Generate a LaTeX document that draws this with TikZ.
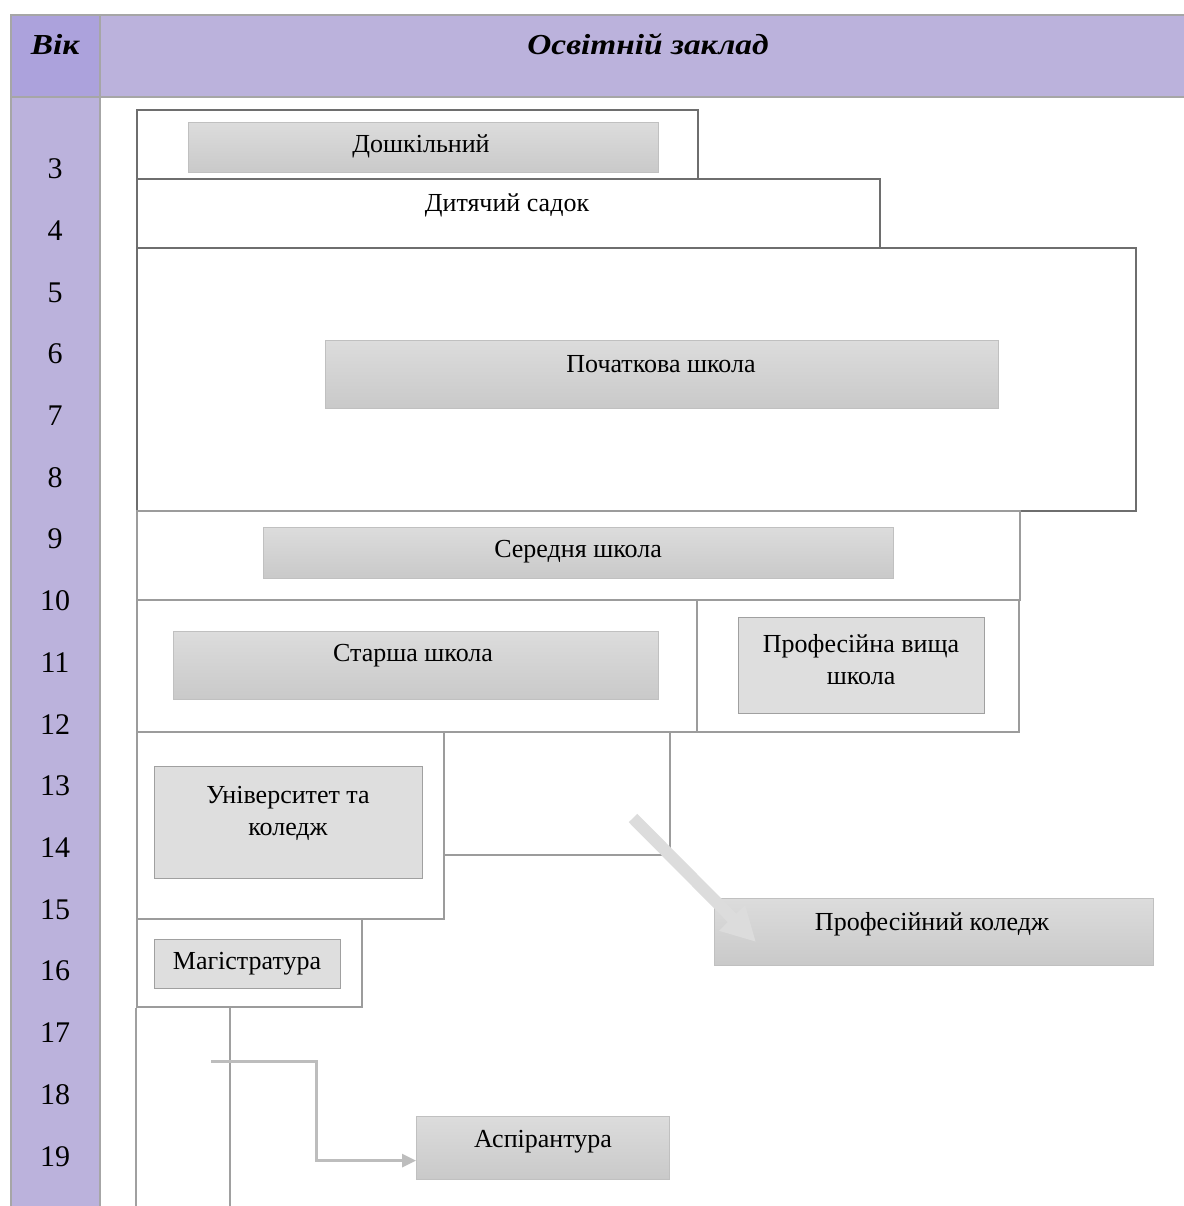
\documentclass[tikz,border=0pt]{standalone}
\usepackage{fontspec}
\setmainfont{Liberation Serif}
\newfontfamily\hdrfont[FakeStretch=1.15]{Liberation Serif}
\usetikzlibrary{arrows.meta,calc}
\definecolor{purpD}{HTML}{ACA2DC}
\definecolor{purpL}{HTML}{BBB2DC}
\definecolor{gridc}{HTML}{A6A6A6}
\definecolor{boxdark}{HTML}{6E6E6E}
\definecolor{boxmid}{HTML}{9C9C9C}
\definecolor{gtop}{HTML}{DCDCDC}
\definecolor{gbot}{HTML}{C9C9C9}
\definecolor{gedge}{HTML}{C0C0C0}
\definecolor{flatg}{HTML}{DEDEDE}
\definecolor{flatedge}{HTML}{A0A0A0}
\definecolor{arrg}{HTML}{DCDCDC}
\definecolor{connc}{HTML}{BDBDBD}
\begin{document}
\begin{tikzpicture}[x=1pt,y=-1pt,
  frame/.style={draw=boxdark,line width=1.6pt,fill=white,inner sep=0pt,anchor=north west},
  framel/.style={frame,draw=boxmid},
  gradbox/.style={draw=gedge,line width=1.2pt,top color=gtop,bottom color=gbot,inner sep=0pt,anchor=north west},
  flatbox/.style={draw=flatedge,line width=1.4pt,fill=flatg,inner sep=0pt,anchor=north west},
  txt/.style={font=\fontsize{26}{32}\selectfont,align=center,inner sep=0pt},
  agetxt/.style={font=\fontsize{30}{34}\selectfont,inner sep=0pt},
  hdrtxt/.style={font=\hdrfont\bfseries\itshape\fontsize{29}{33}\selectfont,inner sep=0pt},
  vline/.style={draw=flatedge,line width=1.6pt},
  conn/.style={draw=connc,line width=3pt,-{Triangle[length=14pt,width=13pt]}},
  bigarrow/.style={draw=arrg,line width=12pt,-{Triangle[length=34pt,width=34pt]}}
]
\useasboundingbox (0,0) rectangle (1183,1206);
\fill[white] (0,0) rectangle (1183,1206);

% table header and age column
\node[draw=gridc,line width=2pt,fill=purpL,inner sep=0pt,anchor=north west,minimum width=1100pt,minimum height=82pt] (hdr) at (99,14) {};
\node[draw=gridc,line width=2pt,fill=purpD,inner sep=0pt,anchor=north west,minimum width=89pt,minimum height=82pt] (hvik) at (10,14) {};
\node[draw=gridc,line width=2pt,fill=purpL,inner sep=0pt,anchor=north west,minimum width=89pt,minimum height=1130pt] (agecol) at (10,96) {};
\node[hdrtxt] (tvik) at (55,44) {Вік};
\node[hdrtxt] (tzaklad) at (648,44) {Освітній заклад};

\foreach \a [count=\i from 0] in {3,...,19} {
  \node[agetxt] (age\a) at (55,{169+61.7*\i}) {\a};
}

% outer frames
\node[frame,minimum width=561pt,minimum height=69pt] (frA) at (136,109) {};
\node[frame,minimum width=743pt,minimum height=69pt] (frB) at (136,178) {};
\node[frame,minimum width=999pt,minimum height=263pt] (frC) at (136,247) {};
\node[framel,minimum width=883pt,minimum height=89pt] (frD) at (136,510) {};
\node[framel,minimum width=560pt,minimum height=132pt] (frE) at (136,599) {};
\node[framel,minimum width=322pt,minimum height=132pt] (frF) at (696,599) {};
\node[framel,minimum width=307pt,minimum height=187pt] (frG) at (136,731) {};
\node[framel,minimum width=226pt,minimum height=123pt] (frH) at (443,731) {};
\node[framel,minimum width=225pt,minimum height=88pt] (frI) at (136,918) {};

% inner boxes
\node[gradbox,minimum width=470pt,minimum height=50pt] (bDosh) at (188,122) {};
\node[gradbox,minimum width=673pt,minimum height=68pt] (bPoch) at (325,340) {};
\node[gradbox,minimum width=630pt,minimum height=51pt] (bSer) at (263,527) {};
\node[gradbox,minimum width=485pt,minimum height=68pt] (bStar) at (173,631) {};
\node[flatbox,minimum width=246pt,minimum height=96pt] (bPVS) at (738,617) {};
\node[flatbox,minimum width=268pt,minimum height=112pt] (bUni) at (154,766) {};
\node[flatbox,minimum width=186pt,minimum height=49pt] (bMag) at (154,939) {};
\node[gradbox,minimum width=439pt,minimum height=67pt] (bPK) at (714,898) {};
\node[gradbox,minimum width=253pt,minimum height=63pt] (bAsp) at (416,1116) {};

% texts
\node[txt] (tDosh) at (421,146) {Дошкільний};
\node[txt] (tSad) at (507,205) {Дитячий садок};
\node[txt] (tPoch) at (661,364) {Початкова школа};
\node[txt] (tSer) at (578,552) {Середня школа};
\node[txt] (tStar) at (413,656) {Старша школа};
\node[txt] (tPVS) at (861,660) {Професійна вища\\школа};
\node[txt] (tUni) at (288,813) {Університет та\\коледж};
\node[txt] (tMag) at (247,964) {Магістратура};
\node[txt] (tPK) at (932,924) {Професійний коледж};
\node[txt] (tAsp) at (543,1142) {Аспірантура};

% lines and connectors
\coordinate (bottomL) at (136,1206);
\coordinate (bottomV) at (230,1206);
\draw[vline] (frI.south west) -- (bottomL);
\draw[vline] (frI.south -| bottomV) -- (bottomV);
\coordinate (e0) at (211,1061);
\coordinate (e1) at (316,1061);
\draw[conn] (e0) -- (e1) |- ($(bAsp.west)+(0,12.5)$);
\coordinate (a0) at (633,818);
\coordinate (a1) at (756,942);
\draw[bigarrow] (a0) -- (a1);
\end{tikzpicture}
\end{document}
